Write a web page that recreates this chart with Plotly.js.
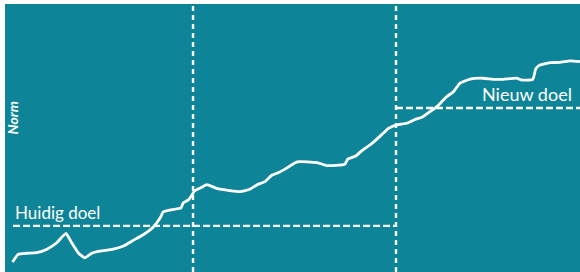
<!DOCTYPE html>
<html>
<head>
<meta charset="utf-8">
<script src="https://cdn.plot.ly/plotly-3.0.1.min.js"></script>
<style>html,body{margin:0;padding:0;background:#fff;}#chart{width:580px;height:272px;}</style>
</head>
<body>
<div id="chart"></div>
<script>
// Time (0-100) and norm level (0-100)
const timeX = [1.3,2.3,3.8,5.5,7.3,9.0,10.6,11.6,12.8,13.9,15.1,16.5,18.8,20.6,22.3,24.1,25.8,27.0,27.5,28.7,30.6,31.0,31.9,32.5,33.0,34.2,35.1,36.8,39.1,40.9,42.6,43.8,45.2,46.4,47.8,49.0,50.8,54.3,56.0,59.1,59.6,61.0,62.3,63.5,65.2,66.7,68.1,69.9,71.3,72.5,73.9,75.1,76.8,78.0,79.1,80.9,83.1,84.9,86.6,89.0,89.9,91.8,92.3,92.9,94.8,96.5,98.3,100];
const normY = [3.7,6.6,7.0,7.2,8.5,10.9,14.4,10.9,7.0,5.3,7.0,7.8,8.5,9.7,11.8,14.0,16.8,20.2,22.4,23.1,23.9,25.8,26.9,28.7,30.3,31.6,32.6,31.2,30.4,30.0,30.9,32.5,33.7,36.1,37.3,38.8,41.1,40.8,39.7,40.2,42.1,43.3,45.7,47.4,50.6,53.6,54.9,55.5,56.9,57.7,59.8,61.7,65.4,67.3,70.4,72.0,72.3,71.9,71.9,72.3,71.6,71.9,75.8,77.1,78.1,78.2,78.8,78.5];

const phaseBounds = [32.7, 68.0];
const goalLabels = ["Huidig doel", "Nieuw doel"];
const goalLevels = [17.2, 61.2];
const goalStart = [1.4, 68.0];
const goalEnd = [68.0, 100];
const axisLabel = "Norm";

const teal = "#0e8499";
const fontFam = "Lato, 'Open Sans', sans-serif";

const traces = [{
  x: timeX, y: normY, type: "scatter", mode: "lines",
  line: {color: "#ffffff", width: 2.8, shape: "spline", smoothing: 0.4},
  hoverinfo: "skip", showlegend: false
}];

const shapes = [];
phaseBounds.forEach(b => shapes.push({
  type: "line", xref: "x", yref: "paper", x0: b, x1: b, y0: 0, y1: 1,
  line: {color: "#ffffff", width: 2.4, dash: "5px,4px"}
}));
goalLevels.forEach((g, i) => shapes.push({
  type: "line", xref: "x", yref: "y", x0: goalStart[i], x1: goalEnd[i], y0: g, y1: g,
  line: {color: "#ffffff", width: 2.4, dash: "7px,3px"}
}));

const annotations = [
  {x: goalStart[0], y: goalLevels[0], xref: "x", yref: "y", text: goalLabels[0],
   xanchor: "left", yanchor: "bottom", yshift: 1, showarrow: false,
   font: {family: fontFam, size: 17, color: "#ffffff"}},
  {x: 99.0, y: goalLevels[1], xref: "x", yref: "y", text: goalLabels[1],
   xanchor: "right", yanchor: "bottom", yshift: 1, showarrow: false,
   font: {family: fontFam, size: 18, color: "#ffffff"}},
  {x: 0.013, y: 0.575, xref: "paper", yref: "paper", text: "<b><i>" + axisLabel + "</i></b>",
   textangle: -90, xanchor: "center", yanchor: "middle", showarrow: false,
   font: {family: fontFam, size: 14, color: "#ffffff"}}
];

const layout = {
  width: 580, height: 272,
  margin: {l: 5, r: 0, t: 4, b: 0, pad: 0},
  paper_bgcolor: "#ffffff", plot_bgcolor: teal,
  xaxis: {range: [0, 100], showgrid: false, zeroline: false, showticklabels: false, ticks: "", showline: false, fixedrange: true},
  yaxis: {range: [0, 100], showgrid: false, zeroline: false, showticklabels: false, ticks: "", showline: false, fixedrange: true},
  shapes: shapes, annotations: annotations, showlegend: false
};

Plotly.newPlot("chart", traces, layout, {staticPlot: true, displayModeBar: false});
</script>
</body>
</html>
